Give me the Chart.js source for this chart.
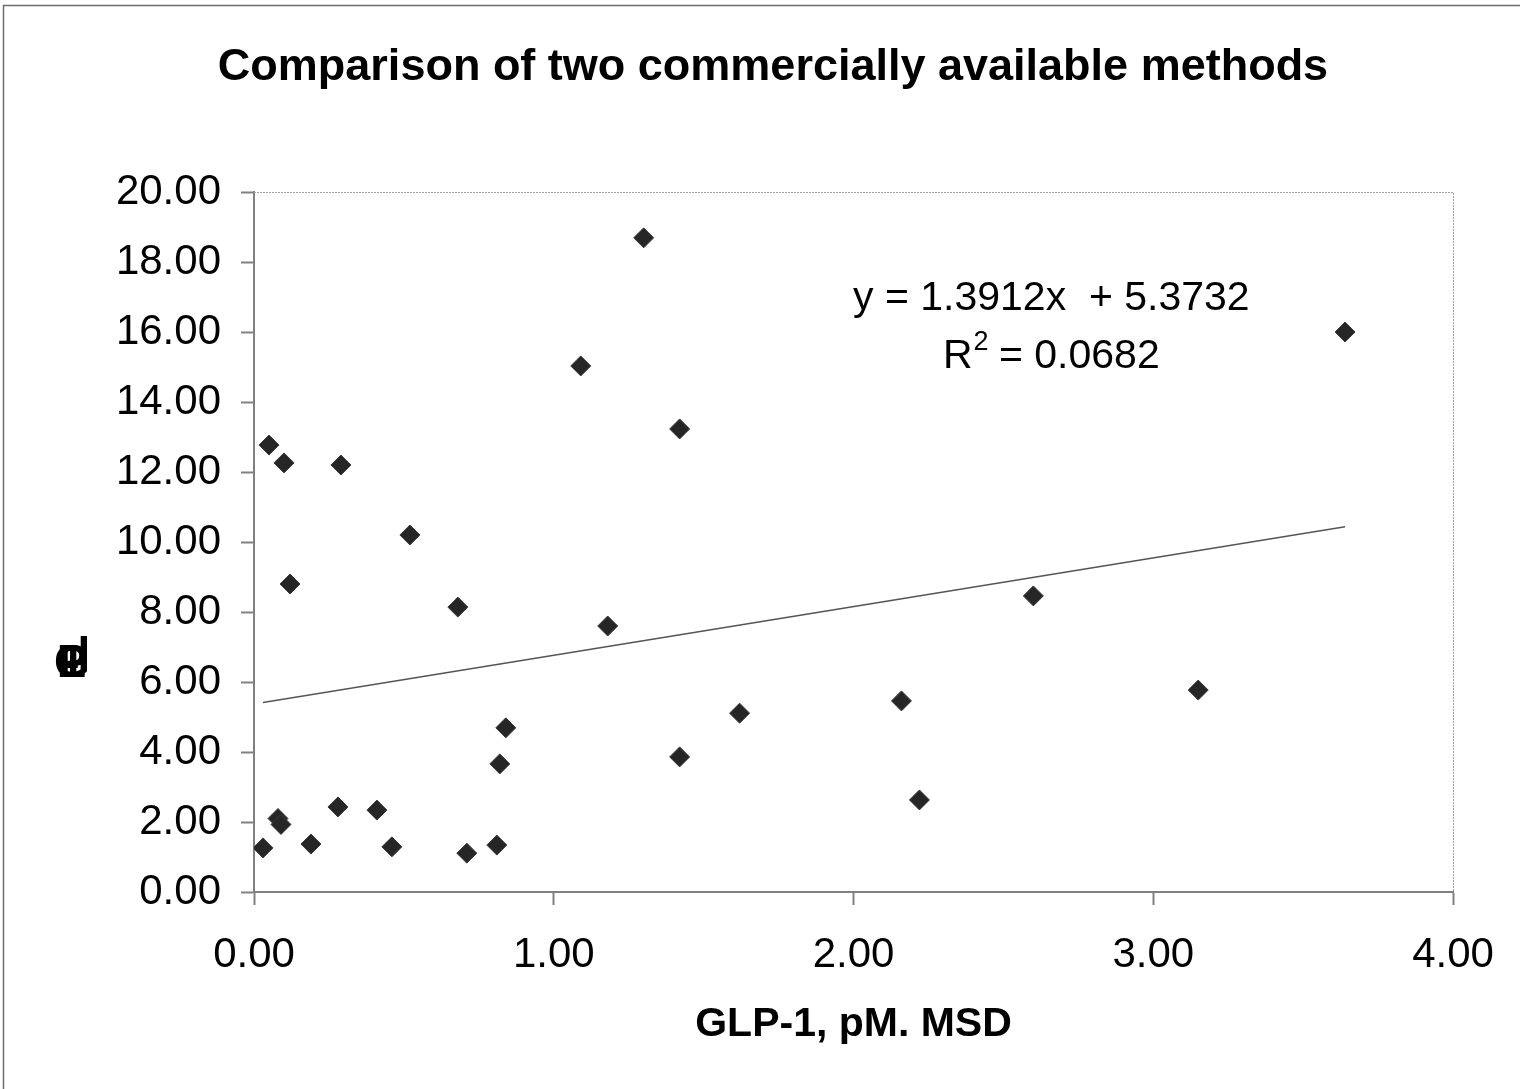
<!DOCTYPE html>
<html>
<head>
<meta charset="utf-8">
<title>Comparison of two commercially available methods</title>
<style>
  html, body { margin: 0; padding: 0; background: #ffffff; }
  #wrap { position: relative; width: 1520px; height: 1089px; overflow: hidden; }
  canvas { display: block; }
</style>
<script src="https://cdn.jsdelivr.net/npm/chart.js@4.4.1/dist/chart.umd.min.js"></script>
</head>
<body>
<div id="wrap"><canvas id="chart" width="1520" height="1089"></canvas></div>
<script>
// GLP-1 (pM) measured with the MSD assay (x) and with the second kit (y)
const glpMSD = [0.03, 0.05, 0.10, 0.08, 0.09, 0.12, 0.19, 0.28, 0.29, 0.41, 0.46, 0.52, 0.68, 0.71,
                0.81, 0.82, 0.84, 1.09, 1.18, 1.30, 1.42, 1.42, 1.62, 2.16, 2.22, 2.60, 3.15, 3.64];
const glpOther = [1.26, 12.77, 12.26, 2.10, 1.93, 8.80, 1.37, 2.43, 12.20, 2.34, 1.29, 10.20, 8.14, 1.11,
                  1.34, 3.66, 4.69, 15.03, 7.60, 18.69, 13.23, 3.86, 5.11, 5.46, 2.63, 8.46, 5.77, 16.00];

// Linear trend line as reported on the chart
const fitSlope = 1.3912;
const fitIntercept = 5.3732;
const fitR2 = 0.0682;

const xTickValues = [0, 1, 2, 3, 4];
const yTickValues = [0, 2, 4, 6, 8, 10, 12, 14, 16, 18, 20];

const chartTitle = 'Comparison of two commercially available methods';
const xAxisTitle = 'GLP-1, pM. MSD';
const yAxisGlyphs = ['G', 'L', 'P', '-', '1'];

const points = glpMSD.map((x, i) => ({ x: x, y: glpOther[i] }));
const xMin = Math.min(...glpMSD);
const xMax = Math.max(...glpMSD);
const trend = [
  { x: xMin, y: fitSlope * xMin + fitIntercept },
  { x: xMax, y: fitSlope * xMax + fitIntercept }
];

const FONT = '"Liberation Sans", Arial, Helvetica, sans-serif';
const axisGray = '#808080';

// Outer frame, plot-area top/right edges, title, y-axis glyphs and fit equation
const decorations = {
  id: 'decorations',
  beforeDraw(chart) {
    const ctx = chart.ctx;
    ctx.save();
    ctx.fillStyle = '#ffffff';
    ctx.fillRect(0, 0, chart.width, chart.height);
    ctx.strokeStyle = '#6e6e6e';
    ctx.lineWidth = 1.5;
    ctx.beginPath();
    ctx.moveTo(3.5, chart.height + 2);
    ctx.lineTo(3.5, 5.5);
    ctx.lineTo(chart.width + 2, 5.5);
    ctx.stroke();
    ctx.restore();
  },
  afterDraw(chart) {
    const ctx = chart.ctx;
    const a = chart.chartArea;
    const xs = chart.scales.x, ys = chart.scales.y;
    ctx.save();
    // dotted top and right edges of the plot area
    ctx.strokeStyle = '#a0a0a0';
    ctx.lineWidth = 1;
    ctx.setLineDash([2, 1]);
    ctx.beginPath();
    ctx.moveTo(a.left, a.top + 0.5);
    ctx.lineTo(a.right + 0.5, a.top + 0.5);
    ctx.lineTo(a.right + 0.5, a.bottom);
    ctx.stroke();
    ctx.setLineDash([]);

    // chart title
    ctx.fillStyle = '#000000';
    ctx.textAlign = 'center';
    ctx.textBaseline = 'middle';
    ctx.font = 'bold 45px ' + FONT;
    ctx.fillText(chartTitle, 773, 68);

    // y-axis title glyphs, drawn on top of one another
    ctx.textBaseline = 'alphabetic';
    ctx.font = 'bold 46px ' + FONT;
    yAxisGlyphs.forEach(g => ctx.fillText(g, 72, 677));
    ctx.fillText('l', 84, 670);

    // fit equation
    ctx.textBaseline = 'middle';
    const cx = xs.getPixelForValue(2.66);
    ctx.font = '41px ' + FONT;
    ctx.textAlign = 'center';
    ctx.fillText('y = 1.3912x  + 5.3732', cx, ys.getPixelForValue(16.95));
    const rY = ys.getPixelForValue(15.3);
    const left = 'R', sup = '2', right = ' = ' + fitR2.toFixed(4);
    const wL = ctx.measureText(left).width;
    const wR = ctx.measureText(right).width;
    ctx.font = '27px ' + FONT;
    const wS = ctx.measureText(sup).width;
    let x0 = cx - (wL + wS + wR) / 2;
    ctx.textAlign = 'left';
    ctx.font = '41px ' + FONT;
    ctx.fillText(left, x0, rY);
    ctx.font = '27px ' + FONT;
    ctx.fillText(sup, x0 + wL + 1, rY - 14);
    ctx.font = '41px ' + FONT;
    ctx.fillText(right, x0 + wL + wS, rY);
    ctx.restore();
  }
};

new Chart(document.getElementById('chart'), {
  type: 'scatter',
  data: {
    datasets: [
      {
        label: 'Samples',
        data: points,
        pointStyle: 'rectRot',
        pointRadius: 10,
        pointHoverRadius: 10,
        backgroundColor: '#262626',
        borderColor: '#3a3a3a',
        borderWidth: 1,
        order: 1
      },
      {
        label: 'Linear fit',
        type: 'line',
        data: trend,
        borderColor: '#555555',
        borderWidth: 1.5,
        pointRadius: 0,
        fill: false,
        order: 2
      }
    ]
  },
  options: {
    responsive: false,
    animation: false,
    devicePixelRatio: 1,
    layout: { padding: { top: 192, right: 67, bottom: 0, left: 0 } },
    plugins: {
      legend: { display: false },
      tooltip: { enabled: false },
      title: { display: false }
    },
    scales: {
      x: {
        type: 'linear',
        min: 0,
        max: 4,
        afterFit(scale) { scale.height = 197; },
        afterBuildTicks(scale) { scale.ticks = xTickValues.map(v => ({ value: v })); },
        border: { color: axisGray, width: 2 },
        grid: { drawOnChartArea: false, drawTicks: true, tickLength: 13, tickColor: axisGray, tickWidth: 2 },
        ticks: {
          padding: 25,
          color: '#000000',
          font: { family: FONT, size: 42 },
          callback: v => Number(v).toFixed(2),
          maxRotation: 0
        },
        title: {
          display: true,
          text: xAxisTitle,
          color: '#000000',
          font: { family: FONT, size: 41, weight: 'bold' },
          padding: { top: 0, bottom: 40 }
        }
      },
      y: {
        type: 'linear',
        min: 0,
        max: 20,
        afterFit(scale) { scale.width = 254; },
        afterBuildTicks(scale) { scale.ticks = yTickValues.map(v => ({ value: v })); },
        border: { color: axisGray, width: 2 },
        grid: { drawOnChartArea: false, drawTicks: true, tickLength: 13, tickColor: axisGray, tickWidth: 2 },
        ticks: {
          padding: 20,
          color: '#000000',
          font: { family: FONT, size: 42 },
          callback: v => Number(v).toFixed(2)
        }
      }
    }
  },
  plugins: [decorations]
});
</script>
</body>
</html>
